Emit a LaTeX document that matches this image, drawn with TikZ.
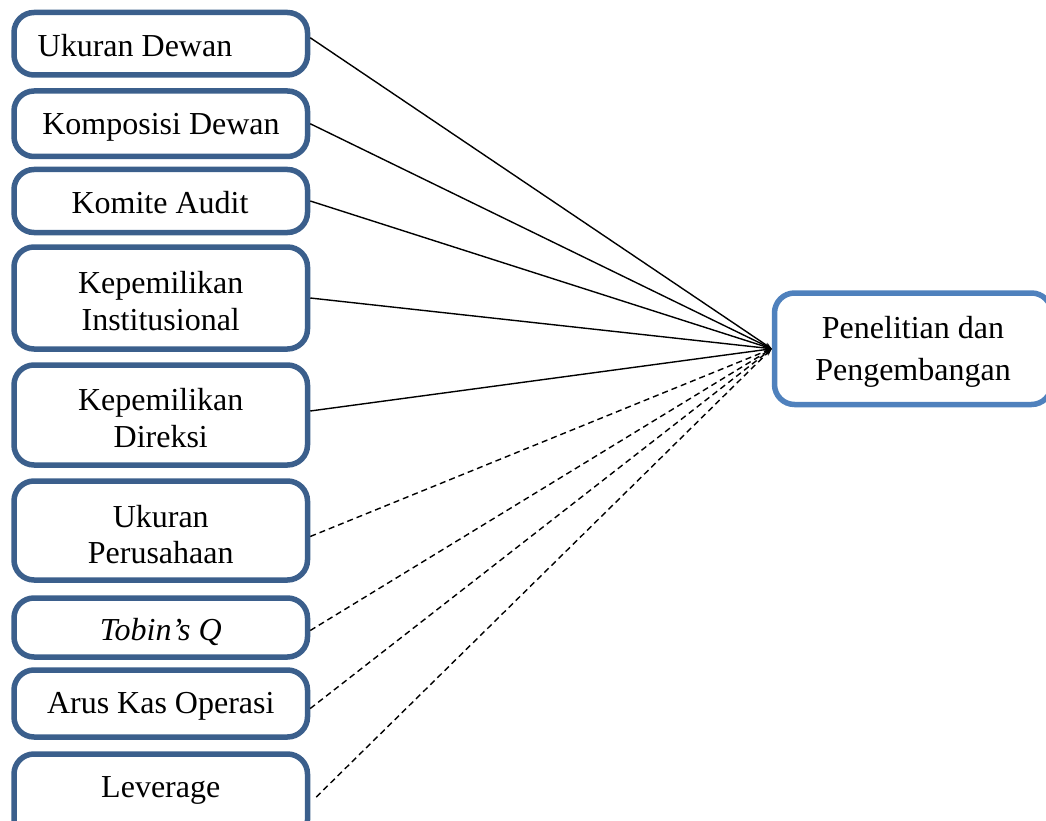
\documentclass[tikz,border=0pt]{standalone}
\usepackage{fontspec}
\setmainfont{Liberation Serif}
\usetikzlibrary{arrows.meta}
\definecolor{dkblue}{HTML}{3B5F8C}
\definecolor{ltblue}{HTML}{4F81BD}
\tikzset{
  box/.style={draw=dkblue, line width=5.5pt, rounded corners=20pt, minimum width=293.5pt,
    inner sep=0pt},
  rbox/.style={draw=ltblue, line width=5.5pt, rounded corners=20pt, minimum width=277pt,
    minimum height=111.5pt, inner sep=0pt},
  lbl/.style={inner sep=0pt, anchor=base, font=\fontsize{32}{37}\selectfont},
  conn/.style={line width=1.4pt, -{Stealth[length=7pt,width=5pt]}},
  dconn/.style={conn, dash pattern=on 6pt off 4pt}
}
\begin{document}
\begin{tikzpicture}[x=1pt,y=-1pt]
\useasboundingbox (0,0) rectangle (1046,821);
\clip (0,0) rectangle (1046,821);
% boxes
\node[box, minimum height=62.5pt] (b1) at (160.75,43.75) {};
\node[box, minimum height=65.5pt] (b2) at (160.75,123.75) {};
\node[box, minimum height=63pt] (b3) at (160.75,201) {};
\node[box, minimum height=102pt] (b4) at (160.75,298) {};
\node[box, minimum height=100pt] (b5) at (160.75,415) {};
\node[box, minimum height=99pt] (b6) at (160.75,530.5) {};
\node[box, minimum height=59pt] (b7) at (160.75,627.5) {};
\node[box, minimum height=67pt] (b8) at (160.75,703.5) {};
\node[box, minimum height=86pt] (b9) at (160.75,797) {};
\node[rbox] (rb) at (913,348.75) {};
% texts
\node[lbl] (t1) at (135,57) {Ukuran Dewan};
\node[lbl] (t2) at (161,135) {Komposisi Dewan};
\node[lbl] (t3) at (160,213) {Komite Audit};
\node[lbl] (t4a) at (160.75,293) {Kepemilikan};
\node[lbl] (t4b) at (160.75,330) {Institusional};
\node[lbl] (t5a) at (160.75,410) {Kepemilikan};
\node[lbl] (t5b) at (160.75,447) {Direksi};
\node[lbl] (t6a) at (160.75,527) {Ukuran};
\node[lbl] (t6b) at (160.75,563) {Perusahaan};
\node[lbl] (t7) at (160.75,640) {\itshape Tobin’s Q};
\node[lbl] (t8) at (160.75,713) {Arus Kas Operasi};
\node[lbl] (t9) at (160.75,797) {Leverage};
\node[lbl] (r1) at (913,338) {Penelitian dan};
\node[lbl] (r2) at (913,380) {Pengembangan};
% connectors
\coordinate (c1) at ([yshift=6pt]b1.east);
\draw[conn] (c1) -- (rb.west);
\draw[conn] (b2.east) -- (rb.west);
\draw[conn] (b3.east) -- (rb.west);
\draw[conn] (b4.east) -- (rb.west);
\draw[conn] ([yshift=4pt]b5.east) -- (rb.west);
\draw[dconn] ([yshift=-6pt]b6.east) -- (rb.west);
\draw[dconn] ([yshift=-3pt]b7.east) -- (rb.west);
\draw[dconn] ([yshift=-5pt]b8.east) -- (rb.west);
\draw[dconn] ([xshift=6pt]b9.east) -- (rb.west);
\end{tikzpicture}
\end{document}
